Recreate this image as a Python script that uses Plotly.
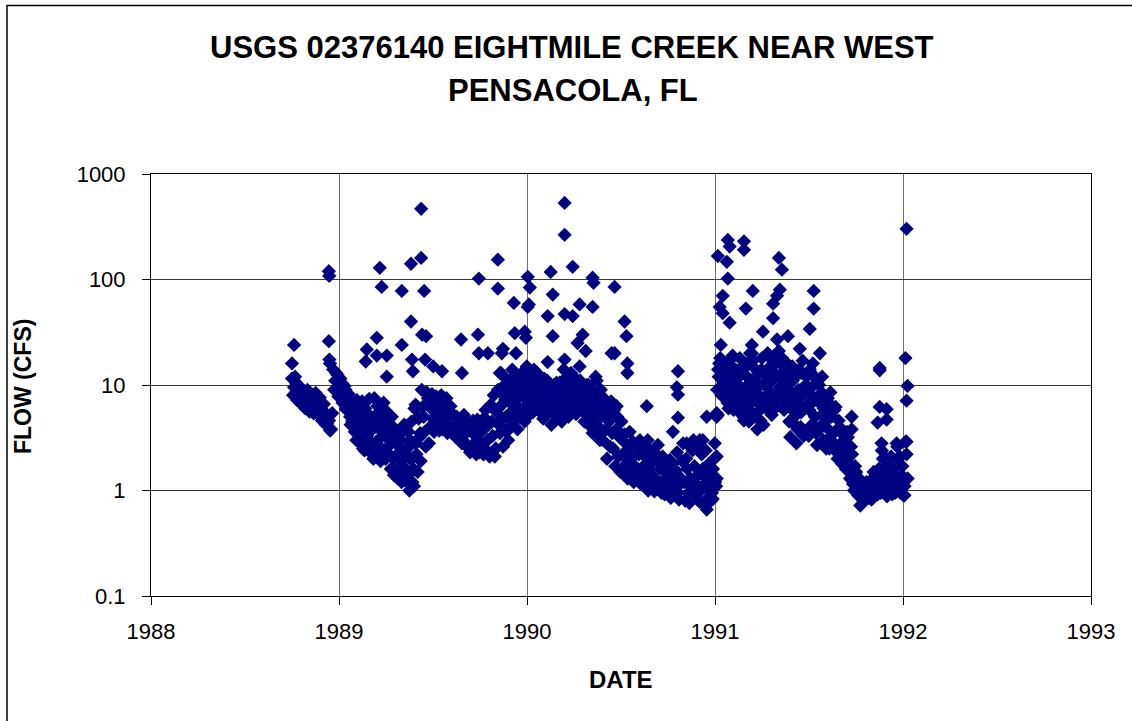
import plotly.graph_objects as go

# ---------------- data ----------------
# Flow record sampled every 4 days from 1 Oct 1988 (decimal year 1988.75) ...
base_start_year = 1988.75
base_step_days = 4
base_flow = [
    11.5, 9.5, 10.5, 8.0, 9.0, 7.0, 8.2, 6.5, 7.5, 6.0,
    7.8, 5.8, 7.0, 5.2, 6.2, 4.8, 5.5, 4.3, 4.6, 3.8,
    14, 11, 12.5, 9.5, 10.5, 8.0, 9.0, 6.8, 7.5, 5.0,
    6.5, 4.2, 5.8, 3.4, 7.0, 4.0, 2.8, 5.2, 2.3, 3.8,
    7.5, 2.9, 5.5, 1.9, 4.4, 3.3, 5.2, 3.4, 1.6, 4.0,
    3.8, 2.2, 1.4, 3.0, 1.7, 1.25, 2.5, 1.0, 4.5, 1.6,
    6.5, 1.5, 3.2, 9.0, 5.0, 2.6, 7.5, 4.0, 8.2, 3.6,
    7.8, 4.5, 6.0, 3.8, 5.2, 7.5, 4.2, 6.3, 3.6, 5.0,
    5.0, 3.2, 4.3, 3.0, 4.8, 2.6, 3.8, 2.5, 4.6, 3.3,
    4.7, 2.3, 3.6, 2.2, 5.8, 3.0, 2.1, 4.5, 8.0, 2.5,
    9.0, 3.5, 6.5, 12, 5.0, 3.0, 8.0, 14, 4.5, 10,
    6.0, 12, 8.5, 4.5, 15, 7.0, 11, 5.5, 9.5, 13,
    6.5, 10, 4.8, 8.5, 11, 6.0, 4.2, 9.0, 7.0, 5.0,
    10.5, 4.5, 14, 8.0, 11, 6.0, 12.5, 7.5, 5.3, 9.5,
    11, 6.0, 4.5, 8.5, 10, 5.0, 3.5, 7.5, 11, 4.0,
    9.0, 3.0, 6.0, 2.0, 4.5, 7.0, 2.5, 1.7, 5.0, 3.2,
    4.5, 1.5, 2.8, 1.3, 3.6, 2.0, 1.2, 2.6, 1.6, 3.0,
    2.7, 1.1, 1.8, 1.0, 2.4, 1.4, 0.98, 2.2, 1.2, 1.6,
    2.1, 0.92, 1.5, 1.1, 0.85, 1.8, 1.0, 2.3, 0.82, 1.3,
    2.8, 0.8, 1.6, 0.76, 1.1, 3.0, 0.9, 1.4, 0.78, 2.2,
    0.75, 2.4, 0.85, 1.3, 0.95, 2.0, 1.1, 14, 18, 11,
    8.0, 16, 6.0, 11, 19, 7.5, 13, 5.6, 9.5, 15,
    6.0, 12, 4.5, 9.0, 17, 5.0, 3.8, 8.0, 14, 4.2,
    10, 20, 7.0, 5.2, 13, 16, 6.5, 9.5, 18, 5.8,
    11, 7.0, 3.2, 15, 5.0, 2.8, 9.0, 4.0, 17, 6.0,
    12, 3.3, 8.0, 16, 5.0, 2.7, 10, 6.5, 3.0, 4.5,
    7.0, 2.5, 5.0, 3.5, 6.2, 2.0, 4.0, 1.8, 3.0, 1.6,
    3.2, 1.3, 2.2, 1.0, 1.5, 0.9, 0.72, 1.1, 0.8, 1.2,
    0.85, 1.0, 1.3, 0.9, 1.1, 1.6, 0.95, 2.0, 1.2, 0.88,
    1.1, 2.1, 1.4, 0.95, 2.6, 1.2, 1.37, 0.9, 2.9, 1.3,
]
# ... the in-between days (offset 2 days from the series above)
mid_start_year = 1988.75 + 2 / 365.25
mid_flow = [
    8.0, 12, 7.2, 9.8, 6.6, 8.6, 6.0, 9.0, 5.6, 7.0,
    5.4, 8.4, 6.0, 7.6, 4.6, 6.6, 4.2, 5.0, 3.7, 5.4,
    9.0, 13, 7.8, 11.5, 6.8, 9.8, 5.8, 8.2, 4.2, 6.2,
    3.6, 7.2, 2.9, 5.0, 2.5, 6.0, 3.3, 7.4, 4.6, 2.0,
    2.2, 6.3, 3.8, 2.5, 6.8, 2.0, 4.6, 2.7, 5.0, 1.4,
    2.8, 1.3, 3.4, 1.9, 4.2, 1.5, 3.6, 2.0, 1.2, 6.0,
    2.2, 4.8, 1.9, 6.2, 3.6, 8.5, 2.8, 6.0, 4.8, 7.0,
    5.5, 3.7, 8.0, 4.8, 6.6, 3.5, 5.6, 3.9, 5.2, 3.2,
    3.8, 4.6, 2.8, 5.2, 3.5, 4.2, 2.3, 4.0, 2.8, 2.2,
    3.0, 4.0, 2.7, 4.9, 2.4, 4.2, 6.5, 3.3, 2.1, 5.5,
    4.2, 13, 2.6, 7.2, 10, 4.0, 11.5, 5.5, 7.0, 3.8,
    10, 5.0, 13.5, 7.5, 5.8, 12, 6.5, 14, 7.8, 5.8,
    9.0, 5.4, 11.5, 5.8, 7.5, 9.5, 7.8, 5.2, 10.5, 8.2,
    6.8, 8.8, 5.6, 12, 7.0, 13, 9.0, 5.8, 11, 7.2,
    7.5, 9.5, 6.6, 5.2, 7.0, 9.0, 6.0, 4.4, 6.5, 3.0,
    5.2, 7.5, 3.8, 5.5, 2.6, 3.5, 5.8, 3.8, 2.1, 1.5,
    2.2, 3.4, 1.8, 2.4, 1.5, 2.9, 1.7, 1.35, 2.2, 1.15,
    1.5, 2.1, 1.25, 1.6, 1.15, 1.9, 1.3, 1.05, 1.8, 0.95,
    1.25, 1.7, 1.0, 1.95, 1.3, 1.1, 1.55, 0.95, 1.15, 1.9,
    1.2, 2.0, 0.95, 1.3, 2.4, 1.7, 1.15, 2.6, 1.0, 1.6,
    1.5, 1.05, 1.8, 0.8, 1.6, 1.2, 9.0, 16, 8.0, 13,
    12, 6.8, 17, 8.5, 5.8, 14, 9.8, 18, 6.8, 4.6,
    15, 7.5, 20, 5.5, 11, 7.0, 13, 4.6, 6.5, 10,
    6.0, 14, 8.5, 17, 6.0, 8.2, 21, 12, 7.5, 14,
    16, 4.5, 8.5, 5.8, 12, 3.8, 6.5, 13, 3.3, 10,
    6.5, 14, 4.2, 10, 3.5, 7.5, 4.0, 12, 5.5, 2.5,
    3.8, 8.5, 2.9, 5.8, 2.3, 4.6, 2.6, 3.4, 2.2, 3.6,
    1.8, 2.6, 1.15, 1.7, 1.05, 1.3, 0.85, 0.78, 1.0, 0.9,
    1.1, 0.82, 1.5, 1.2, 0.92, 1.35, 2.4, 1.05, 1.7, 1.4,
    1.9, 0.92, 1.6, 1.25, 2.0, 0.95, 1.7, 1.1, 2.2,
]
# ... and further days inside the three wet spells (4-day step, own start dates)
wet89_start_year = 1989.0046
wet89_flow = [
    10, 7.5, 8.5, 6.0, 7.0, 5.0, 4.5,
    5.0, 3.0, 4.5, 6.0, 3.8, 2.4, 5.5, 3.0, 4.2, 2.6,
    4.0, 5.0, 2.5, 3.2, 2.2, 5.8, 3.8, 2.2, 3.0, 2.0,
    3.2, 1.6, 2.6, 1.2, 2.3, 3.9, 1.4, 3.0, 2.0, 1.1, 2.8, 5.0, 3.5,
]
wet90_start_year = 1989.8478
wet90_flow = [
    6.0, 8.5, 4.8, 10, 3.6, 7.0, 5.5, 9.0, 12.5, 6.2,
    8.0, 10.5, 6.0, 11.5, 9.0, 5.2, 8.2, 10, 6.2, 11,
    8.0, 6.8, 9.8, 5.2, 6.5, 8.2, 5.6, 10, 6.2, 7.0,
    9.0, 6.2, 7.8, 10, 5.0, 8.8, 6.8, 11, 8.5, 6.0,
    9.0, 7.2, 5.4, 10, 6.2, 4.0, 8.2, 5.5, 3.5, 6.8,
]
wet91_start_year = 1991.0087
wet91_flow = [
    5.0, 12, 9.5, 16,
    10, 13, 7.0, 15, 9.0, 11, 6.5, 12, 8.0, 5.0,
    9.5, 16, 6.5, 11, 8.0, 14, 5.5, 10, 18, 7.5,
    12, 8.0, 15, 11, 19, 7.0, 12, 16, 10, 8.0,
    13, 9.0, 6.0, 11, 4.2, 7.5, 14, 5.5, 8.0, 3.6,
    9.5, 5.8, 13, 7.0, 4.0, 11, 3.8, 8.5, 6.0, 4.8, 7.5, 3.2,
]

# Individual storm-day values (decimal year, cfs)
storm_year = [
    1988.761, 1988.750,
    1988.946, 1988.948, 1988.946, 1988.949, 1988.952,
    1989.142, 1989.148,
    1989.201, 1989.201, 1989.217, 1989.227, 1989.254, 1989.254,
    1989.334, 1989.334,
    1989.383, 1989.383, 1989.388, 1989.393,
    1989.437, 1989.437, 1989.442, 1989.453, 1989.458, 1989.463,
    1989.501, 1989.548,
    1989.649, 1989.654,
    1989.739, 1989.744, 1989.744, 1989.792,
    1989.845, 1989.845, 1989.856, 1989.866, 1989.872,
    1989.930, 1989.935, 1989.941,
    1990.004, 1990.015, 1990.010, 1990.004, 1989.994, 1989.988,
    1990.110, 1990.110, 1990.126, 1990.137, 1990.137,
    1990.200, 1990.200, 1990.200, 1990.200, 1990.243, 1990.243,
    1990.269, 1990.280, 1990.280, 1990.296, 1990.312,
    1990.349, 1990.354, 1990.349, 1990.365,
    1990.450, 1990.466, 1990.466, 1990.477,
    1990.519, 1990.529, 1990.534, 1990.534,
    1990.637, 1990.642, 1990.696,
    1990.776, 1990.797, 1990.803, 1990.803, 1990.803,
    1990.850, 1990.882, 1990.919, 1990.935, 1990.935, 1990.956, 1990.956, 1990.956,
    1990.999, 1990.988, 1991.009, 1991.009, 1991.009,
    1991.015, 1991.015, 1991.063, 1991.068, 1991.078, 1991.068,
    1991.041, 1991.025, 1991.041, 1991.078, 1991.031,
    1991.154, 1991.154, 1991.164, 1991.201, 1991.196, 1991.196,
    1991.255, 1991.309, 1991.309, 1991.330, 1991.340, 1991.356, 1991.345, 1991.330, 1991.388, 1991.451,
    1991.504, 1991.525, 1991.525, 1991.558,
    1991.727, 1991.727,
    1991.876, 1991.876, 1991.876, 1991.913, 1991.865, 1991.913, 1991.886, 1991.966, 1992.019,
    1992.013, 1992.019, 1992.024, 1992.019, 1991.982, 1991.913, 1991.876, 1991.998, 1992.008, 1991.966, 1991.892,
]
storm_flow = [
    24, 16,
    120, 108, 26, 17.4, 16,
    16.7, 21.7,
    28, 19, 129, 85, 19, 12,
    78, 24,
    141, 40, 17.4, 13.5,
    468, 160, 30, 78, 17.4, 29,
    15, 13.5,
    27, 13,
    30, 102, 20, 20,
    154, 82, 13, 20, 22,
    60, 31, 20,
    106, 84, 58, 55, 28, 32,
    45, 16.5, 118, 72, 29,
    532, 265, 47, 17.4, 132, 45,
    25, 58, 15, 30, 21,
    104, 93, 55, 12,
    20, 85, 20, 6.3,
    40, 29, 16, 13,
    6.3, 3.0, 2.7,
    3.6, 9.5, 13.5, 8.1, 4.9,
    2.8, 1.2, 3.0, 1.4, 3.0, 5.0, 1.2, 0.66,
    2.8, 0.83, 5.4, 2.1, 1.3,
    167, 5.2, 147, 237, 205, 102,
    70, 55, 48, 39, 24,
    230, 191, 53, 78, 24, 20,
    32, 59, 43, 70, 160, 124, 80, 27, 29, 22,
    34, 78, 53, 20,
    5.0, 3.8,
    14.5, 13.8, 6.2, 5.9, 4.4, 4.7, 2.8, 2.8, 2.9,
    18, 302, 9.8, 7.1, 2.1, 2.0, 1.5, 1.37, 0.9, 1.1, 1.2,
]

x_ticks = [1988, 1989, 1990, 1991, 1992, 1993]
y_ticks = [0.1, 1, 10, 100, 1000]
y_tick_text = ["0.1", "1", "10", "100", "1000"]

title_line1 = "USGS 02376140 EIGHTMILE CREEK NEAR WEST"
title_line2 = "PENSACOLA, FL"
x_title = "DATE"
y_title = "FLOW (CFS)"

# ---------------- figure ----------------
step = base_step_days / 365.25

def sampled_years(start, values):
    return [start + i * step for i in range(len(values))]

all_x, all_y = [], []
for start, values in [
    (base_start_year, base_flow),
    (mid_start_year, mid_flow),
    (wet89_start_year, wet89_flow),
    (wet90_start_year, wet90_flow),
    (wet91_start_year, wet91_flow),
]:
    all_x += sampled_years(start, values)
    all_y += values
all_x += storm_year
all_y += storm_flow

W, H = 1132, 721
L, R, T, B = 151, 41, 174, 125
PW, PH = W - L - R, H - T - B

def px_x(p):
    return (p - L) / PW

def px_y(p):
    return (H - B - p) / PH

FONT = "Liberation Sans, Arial, Helvetica, sans-serif"
NAVY = "#000080"

fig = go.Figure()
fig.add_trace(go.Scatter(
    x=all_x, y=all_y,
    mode="markers",
    marker=dict(symbol="diamond", size=11, color=NAVY, line=dict(width=0)),
    hoverinfo="x+y",
))

fig.update_layout(
    width=W, height=H, autosize=False,
    margin=dict(l=L, r=R, t=T, b=B, pad=0),
    paper_bgcolor="white", plot_bgcolor="white",
    showlegend=False,
    font=dict(family=FONT, color="black"),
)

fig.update_xaxes(
    range=[1988, 1993], tickvals=x_ticks, ticktext=[str(v) for v in x_ticks],
    showgrid=True, gridcolor="#6e6e6e", gridwidth=1,
    showline=True, linecolor="black", linewidth=1, mirror=True,
    ticks="outside", ticklen=8, tickcolor="black", tickwidth=1,
    tickfont=dict(family=FONT, size=22, color="black"),
    ticklabelstandoff=8,
    zeroline=False,
)
fig.update_yaxes(
    type="log", range=[-1, 3], tickvals=y_ticks, ticktext=y_tick_text,
    showgrid=True, gridcolor="#3a3a3a", gridwidth=1,
    showline=True, linecolor="black", linewidth=1, mirror=True,
    ticks="outside", ticklen=8, tickcolor="black", tickwidth=1,
    tickfont=dict(family=FONT, size=22, color="black"),
    ticklabelstandoff=12,
    zeroline=False,
)

ann = [
    dict(text="<b>%s</b>" % title_line1, x=px_x(572), y=px_y(47.7), font=dict(size=31)),
    dict(text="<b>%s</b>" % title_line2, x=px_x(573), y=px_y(90.5), font=dict(size=31)),
    dict(text="<b>%s</b>" % x_title, x=px_x(620.5), y=px_y(679), font=dict(size=24)),
    dict(text="<b>%s</b>" % y_title, x=px_x(23), y=px_y(387), font=dict(size=23), textangle=-90),
]
for a in ann:
    a.update(xref="paper", yref="paper", xanchor="center", yanchor="middle", showarrow=False)
    a["font"].update(family=FONT, color="black")
fig.update_layout(annotations=ann)

# outer chart border (left and top edges are visible in the picture)
fig.add_shape(
    type="path", xref="paper", yref="paper",
    path="M %f,%f L %f,%f L %f,%f" % (px_x(7), px_y(740), px_x(7), px_y(5.5), px_x(1145), px_y(5.5)),
    line=dict(color="black", width=1.5),
)

fig.write_html("out.html")
